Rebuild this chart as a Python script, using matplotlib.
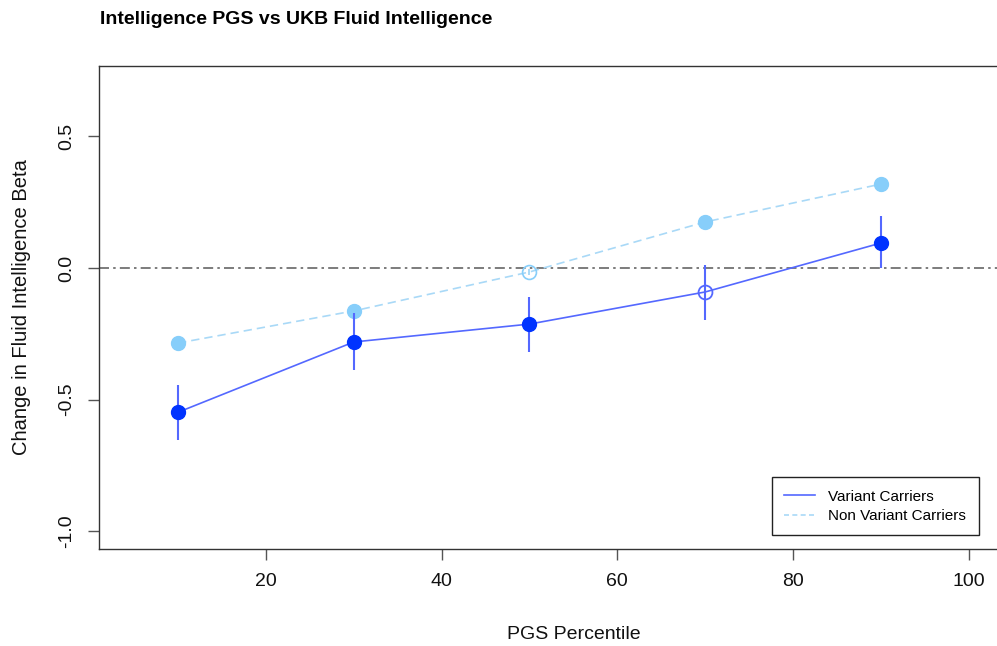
import matplotlib
matplotlib.use("Agg")
import matplotlib.pyplot as plt
from matplotlib.lines import Line2D

plt.rcParams['font.family'] = ['Liberation Sans', 'DejaVu Sans']

# PGS percentile bins
percentiles = [10, 30, 50, 70, 90]

# Variant carriers: beta, lower and upper CI
variant_beta = [-0.548, -0.281, -0.213, -0.091, 0.095]
variant_lo = [-0.654, -0.388, -0.319, -0.198, 0.000]
variant_hi = [-0.445, -0.171, -0.110, 0.011, 0.198]
variant_sig = [True, True, True, False, True]

# Non variant carriers
nonvar_beta = [-0.285, -0.163, -0.015, 0.175, 0.319]
nonvar_lo = [-0.297, -0.175, -0.027, 0.163, 0.307]
nonvar_hi = [-0.273, -0.151, -0.003, 0.187, 0.331]
nonvar_sig = [True, True, False, True, True]

yticks = [-1.0, -0.5, 0.0, 0.5]
ytick_labels = ["-1.0", "-0.5", "0.0", "0.5"]
xticks = [20, 40, 60, 80, 100]

var_line = '#5468FF'
var_pt = '#0033FF'
non_line = '#A9D9F7'
non_pt = '#87CEFA'

fig = plt.figure(figsize=(9.97, 6.46), dpi=100)
ax = fig.add_axes([0.0993, 0.150, 1.051 - 0.0993, 0.898 - 0.150])

ax.axhline(0, color='#666666', lw=1.2, dashes=(6, 2.5, 1.5, 2.5), zorder=1)

# Non variant carriers
ax.plot(percentiles, nonvar_beta, color=non_line, lw=1.2, ls=(0, (5, 3)), zorder=2)
ax.vlines(percentiles, nonvar_lo, nonvar_hi, color=non_line, lw=1.4, zorder=2)
for x, y, s in zip(percentiles, nonvar_beta, nonvar_sig):
    if s:
        ax.plot(x, y, 'o', ms=10, color=non_pt, mec=non_pt, zorder=3)
    else:
        ax.plot(x, y, 'o', ms=10, mfc='none', mec=non_pt, mew=1.2, zorder=3)

# Variant carriers
ax.plot(percentiles, variant_beta, color=var_line, lw=1.2, zorder=4)
ax.vlines(percentiles, variant_lo, variant_hi, color=var_line, lw=1.5, zorder=4)
for x, y, s in zip(percentiles, variant_beta, variant_sig):
    if s:
        ax.plot(x, y, 'o', ms=10, color=var_pt, mec=var_pt, zorder=5)
    else:
        ax.plot(x, y, 'o', ms=10, mfc='none', mec=var_line, mew=1.3, zorder=5)

ax.set_xlim(1, 109)
ax.set_ylim(-1.068, 0.768)
ax.set_xticks(xticks)
ax.set_yticks(yticks)
ax.set_yticklabels(ytick_labels, rotation=90, va='center')
ax.tick_params(axis='both', length=8, width=1, color='#555555', labelsize=14,
               pad=9, labelcolor='#111111')
for sp in ax.spines.values():
    sp.set_color('#333333')
    sp.set_linewidth(1)

ax.set_xlabel('PGS Percentile', fontsize=14, labelpad=26, color='#111111')
ax.set_ylabel('Change in Fluid Intelligence Beta', fontsize=14.5, labelpad=20,
              color='#111111')

fig.text(0.1, 1 - 19 / 646, 'Intelligence PGS vs UKB Fluid Intelligence',
         fontsize=14, fontweight='bold', va='center', ha='left')

handles = [Line2D([], [], color=var_line, lw=1.2),
           Line2D([], [], color=non_line, lw=1.2, ls=(0, (3, 2)))]
leg = ax.legend(handles, ['Variant Carriers', 'Non Variant Carriers'],
                loc='lower right', bbox_to_anchor=(0.927, 0.029),
                borderaxespad=0, fontsize=11, fancybox=False, framealpha=1,
                edgecolor='#222222', handlelength=2.0, borderpad=0.8,
                labelspacing=0.35, handletextpad=0.9)
leg.get_frame().set_linewidth(1)

fig.savefig('out.png', dpi=100)
